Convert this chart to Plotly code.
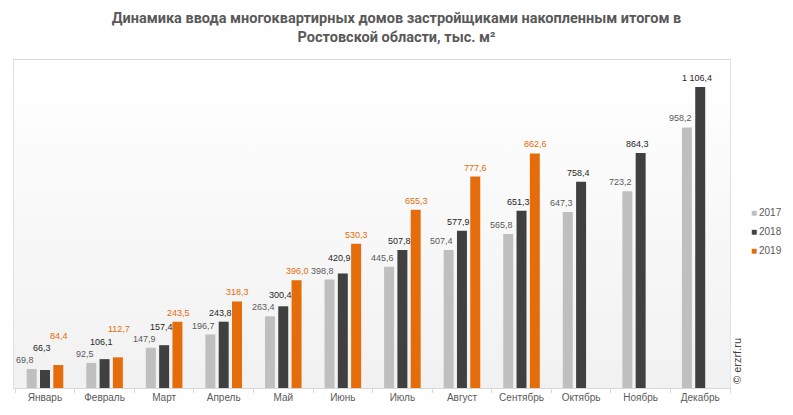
import base64
import plotly.graph_objects as go

months = ["Январь", "Февраль", "Март", "Апрель", "Май", "Июнь", "Июль",
          "Август", "Сентябрь", "Октябрь", "Ноябрь", "Декабрь"]
v2017 = [69.8, 92.5, 147.9, 196.7, 263.4, 398.8, 445.6, 507.4, 565.8, 647.3, 723.2, 958.2]
v2018 = [66.3, 106.1, 157.4, 243.8, 300.4, 420.9, 507.8, 577.9, 651.3, 758.4, 864.3, 1106.4]
v2019 = [84.4, 112.7, 243.5, 318.3, 396.0, 530.3, 655.3, 777.6, 862.6]
series_names = ["2017", "2018", "2019"]

bar_colors = ["#bfbfbf", "#404040", "#e46c0a"]
label_colors = ["#595959", "#262626", "#e46c0a"]
label_xshift = [-20, -3, 14]
FONT = "Liberation Sans, Arial, sans-serif"
LABEL_SIZE = 9
YMAX = 1206

# page is 793x415; the html body has an 8px margin on every side
OFF = 8
PAGE_W, PAGE_H = 793, 415
W, H = PAGE_W - 2 * OFF, PAGE_H - 2 * OFF
PL, PR, PT, PB = 14, 730, 60, 388  # plot area in page pixels
L, R, T, B = PL - OFF, (W + OFF) - PR, PT - OFF, (H + OFF) - PB
pw, ph = PR - PL, PB - PT
px_per_unit = ph / YMAX


def px_x(page_x):
    return (page_x - PL) / pw


def px_y(page_y):
    return (PB - page_y) / ph


def fmt(v):
    s = f"{v:,.1f}"
    return s.replace(",", " ").replace(".", ",")


def text_w(s):
    return sum(LABEL_SIZE * (0.28 if c in ", " else 0.556) for c in s)


fig = go.Figure()
all_vals = [v2017, v2018, v2019]
for name, vals, col in zip(series_names, all_vals, bar_colors):
    fig.add_trace(go.Bar(
        x=months[:len(vals)], y=vals, name=name, marker_color=col,
        marker_line_width=0, showlegend=False, hoverinfo="x+y",
    ))

annotations = []
for i, m in enumerate(months):
    placed = []
    for s, (vals, lc, xs) in enumerate(zip(all_vals, label_colors, label_xshift)):
        if i >= len(vals):
            continue
        v = vals[i]
        txt = fmt(v)
        w = text_w(txt)
        left, right = xs - w / 2 - 1, xs + w / 2 + 1
        base = v * px_per_unit + 2
        hgt = LABEL_SIZE * 1.25
        moved = True
        while moved:
            moved = False
            for (pl, pr, pb, pt) in placed:
                if left < pr and right > pl and base < pt and base + hgt > pb:
                    base = pt + 1
                    moved = True
        placed.append((left, right, base, base + hgt))
        annotations.append(dict(
            x=m, y=v, xref="x", yref="y", text=txt, showarrow=False,
            xanchor="center", yanchor="bottom", xshift=xs,
            yshift=base - v * px_per_unit,
            font=dict(family=FONT, size=LABEL_SIZE, color=lc),
        ))

# legend (small squares + year)
for k, (name, col) in enumerate(zip(series_names, bar_colors)):
    yy = px_y(212 + 19 * k)
    annotations.append(dict(
        x=px_x(749), y=yy, xref="paper", yref="paper", text="■", showarrow=False,
        xanchor="left", yanchor="middle", font=dict(family=FONT, size=10, color=col),
    ))
    annotations.append(dict(
        x=px_x(757), y=yy, xref="paper", yref="paper", text=name, showarrow=False,
        xanchor="left", yanchor="middle", font=dict(family=FONT, size=10, color="#595959"),
    ))

annotations.append(dict(
    x=px_x(737), y=px_y(361), xref="paper", yref="paper",
    text="© erzrf.ru", showarrow=False, textangle=-90,
    xanchor="center", yanchor="middle",
    font=dict(family=FONT, size=11, color="#404040"),
))

svg = ('<svg xmlns="http://www.w3.org/2000/svg" width="10" height="100" '
       'preserveAspectRatio="none"><defs><linearGradient id="g" x1="0" y1="0" '
       'x2="0" y2="1"><stop offset="0" stop-color="#ffffff"/><stop offset="1" '
       'stop-color="#f1f1f1"/></linearGradient></defs>'
       '<rect width="10" height="100" fill="url(#g)"/></svg>')
src = "data:image/svg+xml;base64," + base64.b64encode(svg.encode()).decode()

fig.update_layout(
    width=W, height=H,
    margin=dict(l=L, r=R, t=T, b=B, pad=0, autoexpand=False),
    paper_bgcolor="white", plot_bgcolor="rgba(0,0,0,0)",
    barmode="group", bargap=0.33, bargroupgap=0.25,
    showlegend=False,
    title=dict(
        text="Динамика ввода многоквартирных домов застройщиками накопленным итогом в<br>Ростовской области, тыс. м²",
        x=(PAGE_W / 2 - OFF) / W, xref="container", xanchor="center",
        y=1 - 15 / H, yref="container", yanchor="top",
        font=dict(family="Liberation Sans Narrow, Roboto, sans-serif", size=14.5,
                  color="#595959", weight="bold"),
    ),
    xaxis=dict(
        showline=True, linecolor="#d9d9d9", linewidth=1, mirror=True,
        ticks="outside", tickson="boundaries", ticklen=4, tickcolor="#d9d9d9",
        tickfont=dict(family=FONT, size=10, color="#595959"),
        showgrid=False, fixedrange=True,
    ),
    yaxis=dict(
        range=[0, YMAX], showline=True, linecolor="#e3e3e3", linewidth=1, mirror=True,
        showgrid=False, zeroline=False, showticklabels=False, ticks="",
    ),
    images=[dict(source=src, xref="paper", yref="paper", x=0, y=1, sizex=1, sizey=1,
                 sizing="stretch", layer="below", xanchor="left", yanchor="top")],
    annotations=annotations,
)

fig.write_html("out.html")
